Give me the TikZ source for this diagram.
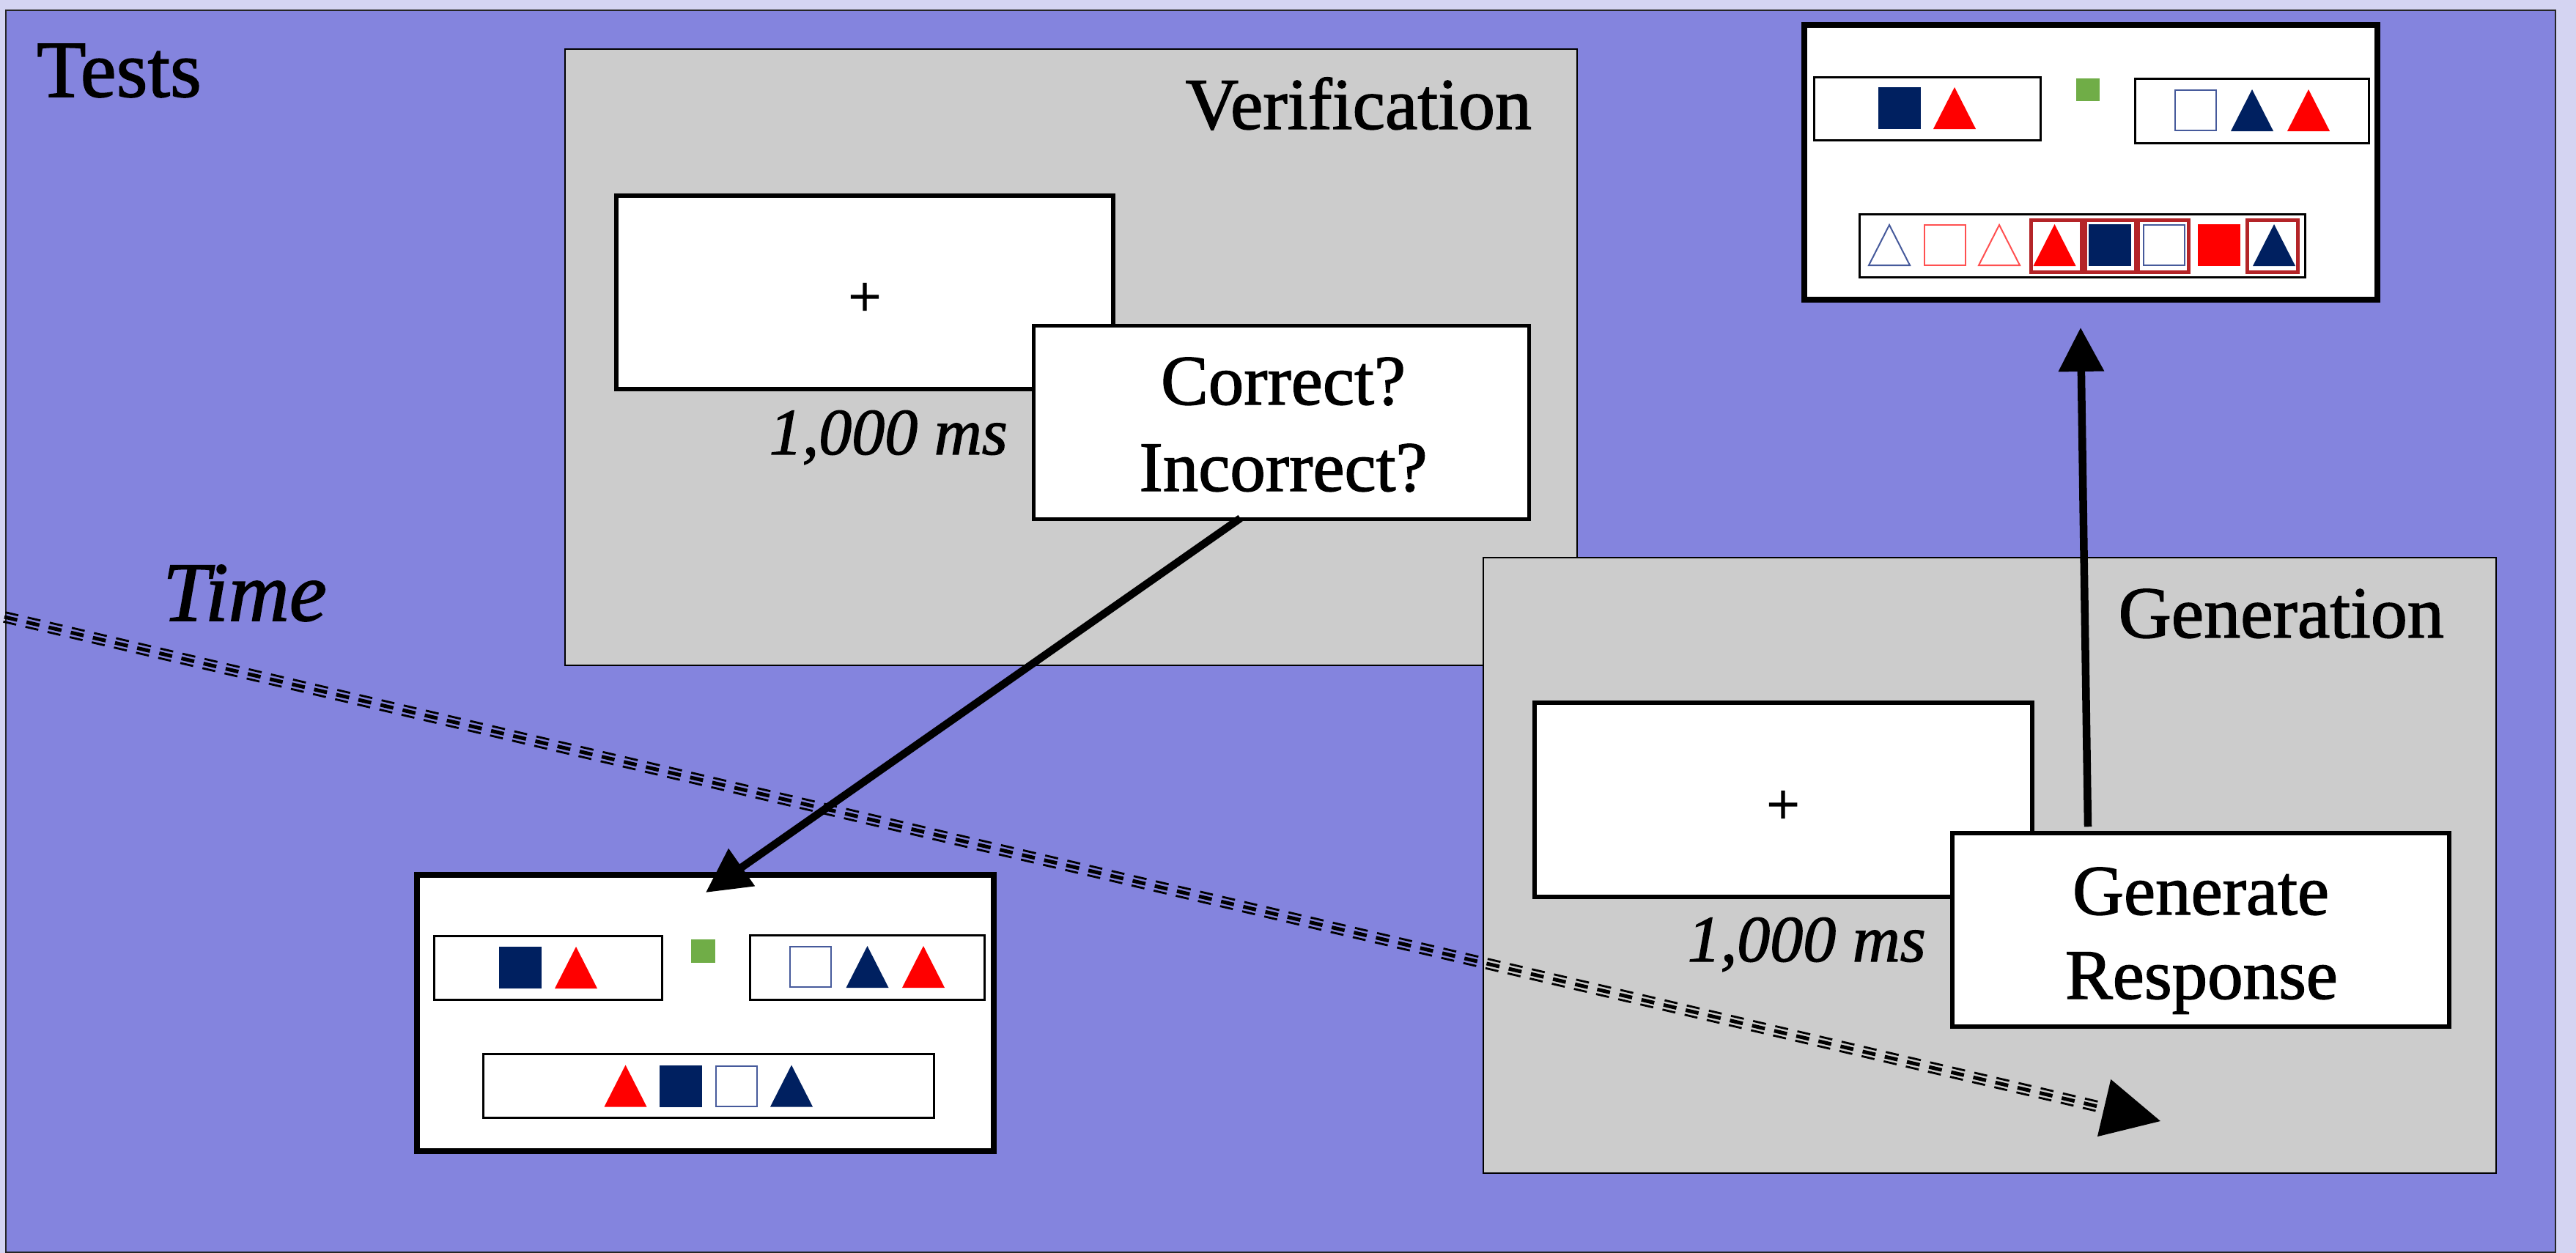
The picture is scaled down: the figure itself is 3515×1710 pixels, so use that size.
\documentclass[tikz,border=0pt]{standalone}
\usepackage{fontspec}
\setmainfont{Liberation Serif}[UprightFeatures={FakeBold=1.4},ItalicFeatures={FakeBold=1.4}]
\usetikzlibrary{arrows.meta,calc}
\definecolor{bglight}{RGB}{212,212,242}
\definecolor{panelblue}{RGB}{132,132,222}
\definecolor{panelgray}{RGB}{204,204,204}
\definecolor{navy}{RGB}{0,32,96}
\definecolor{stimred}{RGB}{255,0,0}
\definecolor{stimgreen}{RGB}{112,173,71}
\definecolor{framered}{RGB}{180,36,40}
\definecolor{outnavy}{RGB}{70,90,155}
\definecolor{outred}{RGB}{255,80,80}
\begin{document}
\begin{tikzpicture}[x=1pt,y=-1pt,
  phasebox/.style={draw=black, line width=2.5pt, fill=panelgray, inner sep=0pt},
  whitebox/.style={draw=black, line width=5.5pt, fill=white, inner sep=0pt},
  stimbox/.style={draw=black, line width=8pt, fill=white, inner sep=0pt},
  subbox/.style={draw=black, line width=3pt, fill=white},
  txt/.style={inner sep=0pt, text=black},
  titlefont/.style={font={\fontsize{110}{130}\selectfont}},
  phasefont/.style={font={\fontsize{100}{120}\selectfont}},
  respfont/.style={font={\fontsize{97}{118}\selectfont}},
  msfont/.style={font={\itshape\fontsize{90}{100}\selectfont}},
  timefont/.style={font={\itshape\fontsize{115}{130}\selectfont}},
  plusfont/.style={font={\fontsize{80}{90}\selectfont}},
  bigarrow/.style={draw=black, line width=10.5pt, -{Triangle[length=60pt,width=60pt]}},
  timeline/.style={draw=black, dash pattern=on 18pt off 13pt},
  fsq/.pic={\fill[#1] (-29,-28.5) rectangle (29,28.5);},
  osq/.pic={\draw[#1, line width=2pt] (-28,-27.5) rectangle (28,27.5);},
  ftri/.pic={\fill[#1] (-29,28.5) -- (0,-28.5) -- (29,28.5) -- cycle;},
  otri/.pic={\draw[#1, line width=2pt, line join=miter] (-28,27.5) -- (0,-27.5) -- (28,27.5) -- cycle;},
  selframe/.pic={\draw[framered, line width=5pt] (-34.5,-35.5) rectangle (34.5,35.5);},
]
\useasboundingbox (0,0) rectangle (3515,1710);
\fill[bglight] (0,0) rectangle (3515,1710);
\draw[fill=panelblue, draw=black!85, line width=2.5pt] (8,14) rectangle (3487,1709);

\node[txt, titlefont, anchor=base west] (teststitle) at (50,132) {Tests};
\node[txt, timefont, anchor=base west] (timelabel) at (222,847) {Time};

% Verification panel
\node[phasebox, minimum width=1381pt, minimum height=841pt] (vpanel) at (1461.5,487.5) {};
\node[txt, phasefont, anchor=base east] (vtitle) at (2090,176) {Verification};
\node[whitebox, minimum width=678pt, minimum height=264pt] (vfix) at (1180,399) {};
\node[txt, plusfont] (vplus) at (1180,409) {+};
\node[txt, msfont, anchor=base east] (vms) at (1375,620) {1,000 ms};
\node[whitebox, minimum width=676pt, minimum height=264pt] (cbox) at (1748.5,576.5) {};
\node[txt, respfont, anchor=base] (ctext1) at (1751,552) {Correct?};
\node[txt, respfont, anchor=base] (ctext2) at (1751,670) {Incorrect?};

% Generation panel
\node[phasebox, minimum width=1382pt, minimum height=840pt] (gpanel) at (2715,1181) {};
\node[txt, phasefont, anchor=base east] (gtitle) at (3335,870) {Generation};
\node[whitebox, minimum width=679pt, minimum height=265pt] (gfix) at (2433.5,1091.5) {};
\node[txt, plusfont] (gplus) at (2433,1102) {+};
\node[txt, msfont, anchor=base east] (gms) at (2628,1312) {1,000 ms};
\node[whitebox, minimum width=678pt, minimum height=264pt] (gbox) at (3003,1269) {};
\node[txt, respfont, anchor=base] (gtext1) at (3003,1248) {Generate};
\node[txt, respfont, anchor=base] (gtext2) at (3004,1363) {Response};

% Time line
\coordinate (ts) at (6,842);
\coordinate (te) at (2948,1530);
\coordinate (tb) at ($(te)!79pt!(ts)$);
\draw[timeline, line width=5pt, -{Triangle[length=79pt,width=79pt]}] (ts) -- (te);
\draw[timeline, line width=2.8pt] ($(ts)+(-1.48,6.33)$) -- ($(tb)+(-1.48,6.33)$);
\draw[timeline, line width=2.8pt] ($(ts)+(1.48,-6.33)$) -- ($(tb)+(1.48,-6.33)$);

% Verification stimulus screen
\node[stimbox, minimum width=787pt, minimum height=377pt] (vstim) at (962.5,1382.5) {};
\draw[subbox] (592,1277) rectangle (903,1364);
\pic at (710,1320.5) {fsq=navy};
\pic at (786,1320.5) {ftri=stimred};
\fill[stimgreen] (943,1282) rectangle (976,1314);
\draw[subbox] (1023,1276) rectangle (1343,1364);
\pic at (1105.5,1319.5) {osq=outnavy};
\pic at (1183.5,1319.5) {ftri=navy};
\pic at (1260,1319.5) {ftri=stimred};
\draw[subbox] (659,1438) rectangle (1274,1525);
\pic at (853.5,1482) {ftri=stimred};
\pic at (928.5,1482) {fsq=navy};
\pic at (1004.5,1482) {osq=outnavy};
\pic at (1080,1482) {ftri=navy};

% Generation stimulus screen
\node[stimbox, minimum width=782pt, minimum height=375pt] (gstim) at (2853,221.5) {};
\draw[subbox] (2475,105) rectangle (2784,191);
\pic at (2591.5,147.5) {fsq=navy};
\pic at (2667,147.5) {ftri=stimred};
\fill[stimgreen] (2833,107) rectangle (2865,138);
\draw[subbox] (2913,107) rectangle (3232,195);
\pic at (2995.5,150.5) {osq=outnavy};
\pic at (3073,150.5) {ftri=navy};
\pic at (3150,150.5) {ftri=stimred};
\draw[subbox] (2537,292) rectangle (3145,378);
\pic at (2578,334.5) {otri=outnavy};
\pic at (2654,334.5) {osq=outred};
\pic at (2728,334.5) {otri=outred};
\pic at (2803.5,334.5) {ftri=stimred};
\pic at (2878.5,334.5) {fsq=navy};
\pic at (2953,334.5) {osq=outnavy};
\pic at (3028,334.5) {fsq=stimred};
\pic at (3103,334.5) {ftri=navy};
\pic at (2805.5,335.5) {selframe};
\pic at (2880,335.5) {selframe};
\pic at (2952,335.5) {selframe};
\pic at (3101,335.5) {selframe};

% Arrows
\coordinate (vtip) at (963,1218);
\draw[bigarrow] ($(cbox.south)+(-56,-4)$) -- (vtip);
\coordinate (gtip) at (2839,447);
\draw[bigarrow] ($(gbox.north)+(-154,-6)$) -- (gtip);
\end{tikzpicture}
\end{document}
